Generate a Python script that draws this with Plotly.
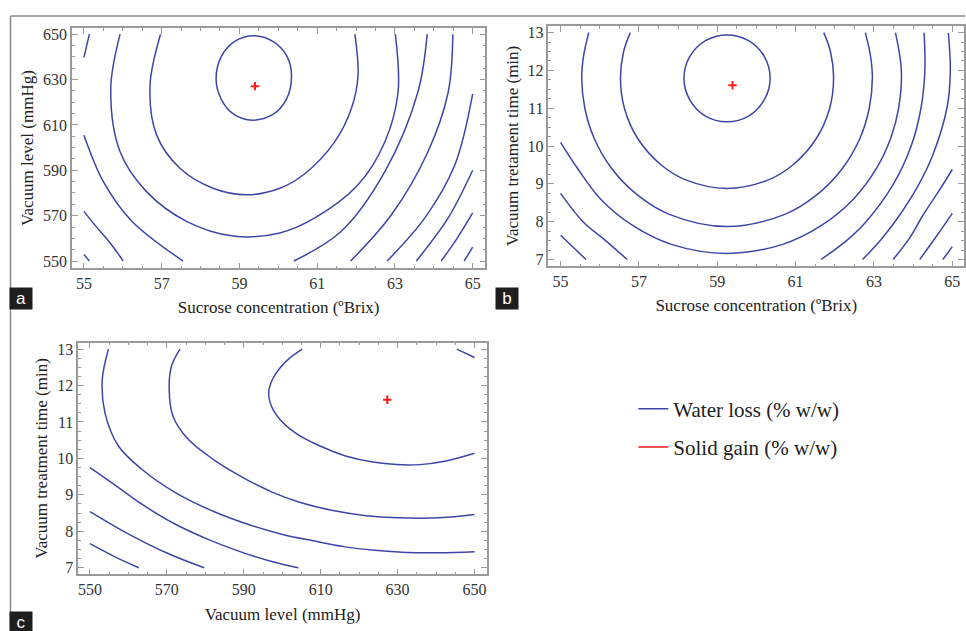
import plotly.graph_objects as go

# ---------------- Panel a: Sucrose (x) vs Vacuum level (y) ----------------
a_c1_x = [59.37, 59.88, 60.23, 60.34, 60.21, 59.86, 59.33, 58.86, 58.53, 58.40, 58.53, 58.88, 59.37]
a_c1_y = [649.3, 646.6, 640.0, 631.5, 621.4, 614.6, 612.1, 614.6, 621.4, 630.2, 640.0, 646.8, 649.3]
a_c2_x = [56.97, 56.70, 56.87, 57.47, 58.32, 59.18, 60.04, 60.69, 61.45, 61.88, 62.05, 61.97]
a_c2_y = [650, 627.4, 605.5, 590.9, 582.1, 579.2, 582.1, 588.6, 602.5, 617.2, 631.7, 650]
a_c3_x = [55.93, 55.69, 55.93, 56.61, 57.64, 58.84, 60.04, 60.94, 62.05, 62.74, 63.08, 63.01]
a_c3_y = [650, 626, 598.2, 580.6, 567.5, 561.0, 562.4, 569, 583.6, 602.5, 624.4, 650]
a_c4l_x = [55.0, 55.5, 56.22, 57.55]
a_c4l_y = [605.5, 585.0, 567.8, 550]
a_c4r_x = [60.40, 61.62, 62.74, 63.59, 63.83]
a_c4r_y = [550, 563.1, 589.4, 624.4, 650]
a_c5l_x = [55.0, 55.3, 55.65, 56.01]
a_c5l_y = [571.9, 565.5, 558.5, 550]
a_c5r_x = [61.86, 62.91, 63.85, 64.37, 64.49]
a_c5r_y = [550, 570.4, 598.2, 624.4, 650]
a_c6t_x = [55.0, 55.14]
a_c6t_y = [639.8, 650]
a_c6l_x = [55.0, 55.14]
a_c6l_y = [552.9, 550]
a_c6r_x = [62.80, 63.77, 64.54, 65.0]
a_c6r_y = [550, 569, 592.3, 623.7]
a_c7_x = [63.55, 64.37, 65.0]
a_c7_y = [550, 569, 590]
a_c8_x = [64.19, 64.6, 65.0]
a_c8_y = [550, 560, 571.2]
a_c9_x = [64.78, 65.0]
a_c9_y = [550, 556.1]
a_opt_x = [59.40]
a_opt_y = [627.1]

# ---------------- Panel b: Sucrose (x) vs Vacuum time (y) ----------------
b_c1_x = [59.25, 59.80, 60.20, 60.35, 60.20, 59.80, 59.25, 58.70, 58.30, 58.15, 58.30, 58.70, 59.25]
b_c1_y = [12.94, 12.79, 12.37, 11.79, 11.22, 10.79, 10.64, 10.79, 11.22, 11.79, 12.37, 12.79, 12.94]
b_c2_x = [56.78, 56.61, 56.53, 56.63, 56.97, 57.57, 58.21, 59.25, 60.29, 60.93, 61.53, 61.87, 61.97, 61.89, 61.72]
b_c2_y = [13.0, 12.5, 11.8, 11.0, 10.2, 9.5, 9.1, 8.88, 9.1, 9.5, 10.2, 11.0, 11.8, 12.5, 13.0]
b_c3_x = [55.72, 55.59, 55.54, 55.62, 55.86, 56.31, 56.97, 57.76, 59.25, 60.74, 61.53, 62.19, 62.64, 62.88, 62.96, 62.91, 62.78]
b_c3_y = [13.0, 12.4, 11.8, 11.0, 10.2, 9.4, 8.7, 8.2, 7.87, 8.2, 8.7, 9.4, 10.2, 11.0, 11.8, 12.4, 13.0]
b_c4_x = [55.0, 55.44, 56.02, 56.84, 57.83, 59.25, 60.67, 61.66, 62.48, 63.06, 63.43, 63.63, 63.70, 63.55]
b_c4_y = [10.1, 9.4, 8.6, 7.9, 7.4, 7.16, 7.4, 7.9, 8.6, 9.4, 10.21, 11.0, 12.0, 13.0]
b_c5l_x = [55.0, 55.6, 56.15, 56.7]
b_c5l_y = [8.75, 7.97, 7.5, 7.0]
b_c5r_x = [61.65, 62.3, 62.8, 63.5, 63.95, 64.2, 64.3, 64.28]
b_c5r_y = [7.0, 7.5, 8.0, 9.0, 10.0, 11.0, 12.0, 13.0]
b_c6l_x = [55.0, 55.65]
b_c6l_y = [7.64, 7.0]
b_c6r_x = [62.71, 63.2, 63.64, 64.1, 64.49, 64.87, 64.95, 64.90]
b_c6r_y = [7.0, 7.55, 8.15, 8.9, 9.73, 11.04, 12.0, 12.99]
b_c7_x = [63.49, 63.9, 64.24, 64.65, 65.0]
b_c7_y = [7.0, 7.55, 8.15, 8.8, 9.38]
b_c8_x = [64.17, 64.6, 65.0]
b_c8_y = [7.0, 7.62, 8.22]
b_c9_x = [64.76, 65.0]
b_c9_y = [7.0, 7.34]
b_opt_x = [59.39]
b_opt_y = [11.61]

# ---------------- Panel c: Vacuum level (x) vs Vacuum time (y) ----------------
c_c1_x = [605.2, 601.9, 599.4, 597.6, 596.5, 597.2, 599.4, 603.7, 608.0, 612.3, 616.7, 623.6, 629.7, 635.7, 642.6, 650]
c_c1_y = [13.0, 12.75, 12.48, 12.2, 11.84, 11.43, 11.07, 10.68, 10.43, 10.23, 10.06, 9.9, 9.83, 9.83, 9.93, 10.14]
c_c1t_x = [645.4, 650]
c_c1t_y = [13.0, 12.77]
c_c2_x = [573.4, 571.2, 570.6, 571.6, 575.5, 582.5, 591.1, 597.5, 604.5, 613.2, 621.8, 630.0, 640.9, 650]
c_c2_y = [13.0, 12.53, 11.89, 11.16, 10.53, 9.94, 9.40, 9.07, 8.80, 8.57, 8.43, 8.37, 8.37, 8.46]
c_c3_x = [554.8, 553.2, 553.9, 557.4, 563.4, 572.1, 582.5, 592.0, 600.6, 608.0, 616.0, 624.0, 632.2, 640.9, 650]
c_c3_y = [13.0, 12.16, 11.25, 10.34, 9.71, 9.07, 8.53, 8.16, 7.90, 7.74, 7.58, 7.48, 7.42, 7.41, 7.44]
c_c4_x = [550, 554.8, 563.4, 572.1, 580.7, 589.4, 597, 604.2]
c_c4_y = [9.75, 9.4, 8.75, 8.2, 7.78, 7.43, 7.18, 7.0]
c_c5_x = [550, 559.1, 570.3, 579.7]
c_c5_y = [8.54, 7.98, 7.39, 7.0]
c_c6_x = [550, 556.5, 562.7]
c_c6_y = [7.66, 7.30, 7.0]
c_opt_x = [627.3]
c_opt_y = [11.61]

# ---------------- Text ----------------
water_name = "Water loss (% w/w)"
solid_name = "Solid gain (% w/w)"
sucrose_title = "Sucrose concentration (ºBrix)"
vac_level_title = "Vacuum level (mmHg)"
time_title_b = "Vacuum tretament time (min)"
time_title_c = "Vacuum treatment time (min)"

BLUE = "#3f45a6"
RED = "#ff1a1a"
FRAME = "#9a9a9a"
SERIF = "Liberation Serif"


def join(*curves):
    xs, ys = [], []
    for cx, cy in curves:
        if xs:
            xs.append(None)
            ys.append(None)
        xs.extend(cx)
        ys.extend(cy)
    return xs, ys


fig = go.Figure()

panels = [
    ("x", "y", [(a_c1_x, a_c1_y), (a_c2_x, a_c2_y), (a_c3_x, a_c3_y), (a_c4l_x, a_c4l_y),
                (a_c4r_x, a_c4r_y), (a_c5l_x, a_c5l_y), (a_c5r_x, a_c5r_y), (a_c6t_x, a_c6t_y),
                (a_c6l_x, a_c6l_y), (a_c6r_x, a_c6r_y), (a_c7_x, a_c7_y), (a_c8_x, a_c8_y),
                (a_c9_x, a_c9_y)], a_opt_x, a_opt_y),
    ("x2", "y2", [(b_c1_x, b_c1_y), (b_c2_x, b_c2_y), (b_c3_x, b_c3_y), (b_c4_x, b_c4_y),
                  (b_c5l_x, b_c5l_y), (b_c5r_x, b_c5r_y), (b_c6l_x, b_c6l_y), (b_c6r_x, b_c6r_y),
                  (b_c7_x, b_c7_y), (b_c8_x, b_c8_y), (b_c9_x, b_c9_y)], b_opt_x, b_opt_y),
    ("x3", "y3", [(c_c1_x, c_c1_y), (c_c1t_x, c_c1t_y), (c_c2_x, c_c2_y), (c_c3_x, c_c3_y),
                  (c_c4_x, c_c4_y), (c_c5_x, c_c5_y), (c_c6_x, c_c6_y)], c_opt_x, c_opt_y),
]

for i, (xa, ya, curves, ox, oy) in enumerate(panels):
    xs, ys = join(*curves)
    fig.add_trace(go.Scatter(
        x=xs, y=ys, xaxis=xa, yaxis=ya, mode="lines",
        line=dict(color=BLUE, width=1.5, shape="spline", smoothing=1.0),
        connectgaps=False, name=water_name, legendgroup="water",
        showlegend=(i == 0), hoverinfo="skip"))
    fig.add_trace(go.Scatter(
        x=ox, y=oy, xaxis=xa, yaxis=ya, mode="markers",
        marker=dict(symbol="cross-thin", size=6, color=RED, line=dict(color=RED, width=2)),
        name=solid_name, legendgroup="solid", showlegend=False))

# legend entry for solid gain (line sample)
fig.add_trace(go.Scatter(x=[None], y=[None], mode="lines", line=dict(color=RED, width=1.5),
                         name=solid_name, legendgroup="solid", showlegend=True))

tickfont = dict(family=SERIF, size=16, color="#333333")
titlefont = dict(family=SERIF, size=17, color="#222222")


def axis(domain, rng, tick0, dtick, minor_dtick, title=None, anchor=None, standoff=6):
    d = dict(domain=domain, range=rng, showline=True, linecolor=FRAME, linewidth=1.5,
             mirror="ticks", ticks="inside", ticklen=6, tickwidth=1, tickcolor=FRAME,
             tick0=tick0, dtick=dtick, showgrid=False, zeroline=False, tickfont=tickfont,
             minor=dict(ticks="inside", ticklen=3, tickcolor=FRAME, dtick=minor_dtick,
                        tick0=tick0, showgrid=False),
             anchor=anchor)
    if title:
        d["title"] = dict(text=title, font=titlefont, standoff=standoff)
    return d


fig.update_layout(
    width=966, height=631,
    margin=dict(l=0, r=0, t=0, b=0),
    paper_bgcolor="white", plot_bgcolor="white",
    xaxis=axis([0.0745, 0.5031], [54.69, 65.33], 55, 2, 0.5, sucrose_title, "y", 10),
    yaxis=axis([0.5753, 0.9588], [546.8, 652.8], 550, 20, 5, vac_level_title, "x", 5),
    xaxis2=axis([0.5683, 0.999], [54.69, 65.3], 55, 2, 0.5, sucrose_title, "y2", 10),
    yaxis2=axis([0.5785, 0.962], [6.82, 13.18], 7, 1, 0.25, time_title_b, "x2", 5),
    xaxis3=axis([0.0811, 0.5045], [546.96, 653.2], 550, 20, 5, vac_level_title, "y3", 11),
    yaxis3=axis([0.0872, 0.4569], [6.82, 13.18], 7, 1, 0.25, time_title_c, "x3", 5),
    showlegend=True,
    legend=dict(x=634 / 966, y=1 - 389 / 631, xanchor="left", yanchor="top",
                font=dict(family=SERIF, size=21, color="#222222"),
                bgcolor="rgba(0,0,0,0)", tracegroupgap=8, itemwidth=30),
)

# outer frame lines
fig.add_shape(type="line", xref="paper", yref="paper", x0=10.5 / 966, x1=1, y0=1 - 14 / 631, y1=1 - 14 / 631,
              line=dict(color="#8a8a8a", width=1.5))
fig.add_shape(type="line", xref="paper", yref="paper", x0=10.5 / 966, x1=10.5 / 966, y0=1 - 14 / 631, y1=0,
              line=dict(color="#8a8a8a", width=1.5))

# panel labels
for lab, cx, top in [("a", 21.5, 287), ("b", 507.5, 287), ("c", 21.5, 613)]:
    fig.add_annotation(text=lab, xref="paper", yref="paper", x=cx / 966, y=1 - top / 631,
                       xanchor="center", yanchor="top", showarrow=False, width=20, height=19,
                       bgcolor="#1e1e1e", font=dict(family="Liberation Sans", size=17, color="white"))

fig.write_html("out.html")
